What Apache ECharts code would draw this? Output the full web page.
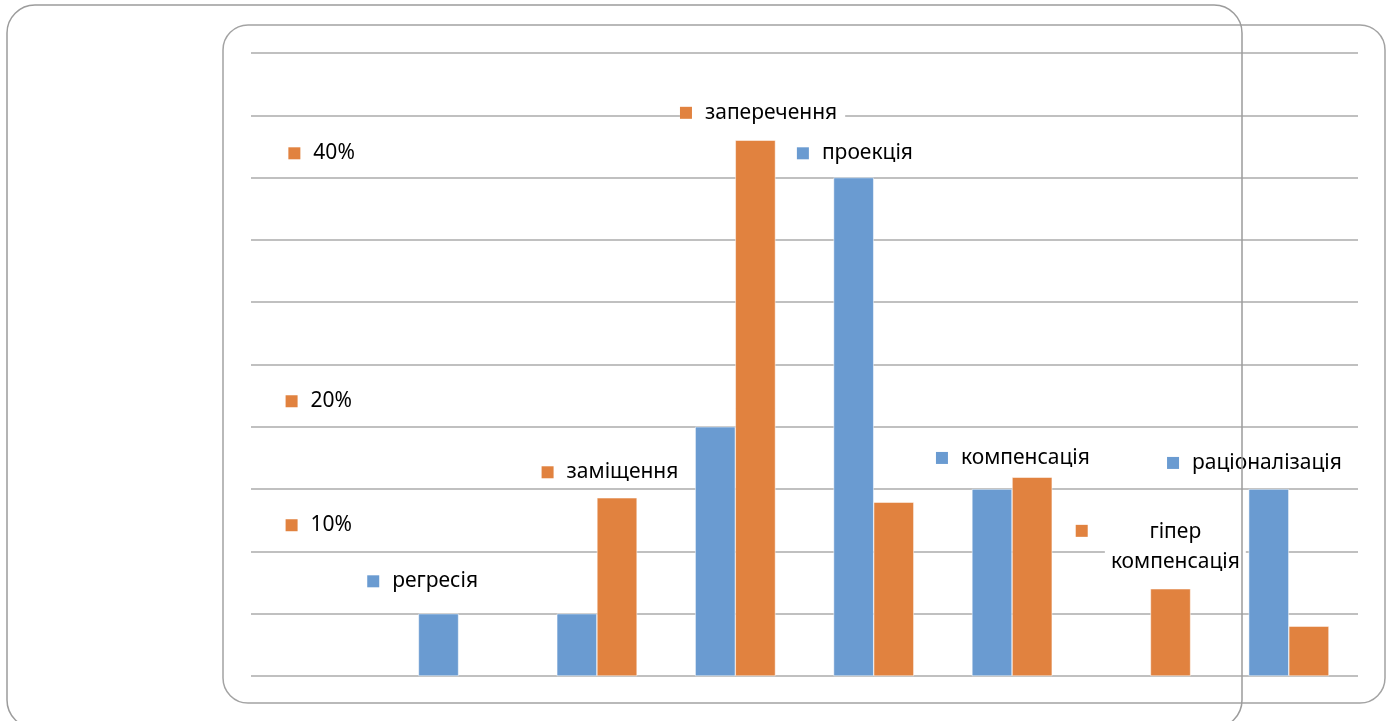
<!DOCTYPE html>
<html>
<head>
<meta charset="utf-8">
<script src="https://cdn.jsdelivr.net/npm/echarts@6/dist/echarts.min.js"></script>
<title>механізми захисту</title>
<style>
  html, body { margin: 0; padding: 0; background: #fff; }
  #main { width: 1389px; height: 721px; }
</style>
</head>
<body>
<div id="main"></div>
<script>
// categories (first one is empty, it only holds the percentage notes)
var categories = ['', 'регресія', 'заміщення', 'заперечення', 'проекція', 'компенсація', 'гіпер компенсація', 'раціоналізація'];
var blueValues = ['-', 1, 1, 4, 8, 3, '-', 3];
var orangeValues = ['-', '-', 2.86, 8.6, 2.79, 3.19, 1.4, 0.8];

// floating notes: text, series (0 blue, 1 orange), and where they sit in data units
var noteTexts = ['40%', '20%', '10%', 'регресія', 'заміщення', 'заперечення', 'проекція', 'компенсація', 'раціоналізація', ''];
var noteSeries = [1, 1, 1, 0, 1, 1, 0, 0, 0, 1];
var noteX = [0.27, 0.25, 0.25, 0.84, 2.1, 3.1, 3.945, 4.95, 6.62, 5.96];
var noteY = [8.39, 4.41, 2.42, 1.52, 3.27, 9.04, 8.39, 3.5, 3.42, 2.33];
// the two-line note is centred on its own
var splitNote = 'гіпер\nкомпенсація';
var splitNoteX = 6.68;
var splitNoteY = 2.07;

var colors = ['#6A9BD1', '#E1823F'];

var notes = [];
for (var i = 0; i < noteTexts.length; i++) {
	var s = noteSeries[i];
	var txt = noteTexts[i] ? '{sq' + s + '|}{t|' + noteTexts[i] + '}' : '{sq' + s + '|}';
	notes.push({ value: [noteX[i], noteY[i]], label: { formatter: txt } });
}

var myChart = echarts.init(document.getElementById('main'));
var option = {
	animation: false,
	grid: { left: 251, right: 31, top: 53, bottom: 45 },
	xAxis: [
		{
			type: 'category',
			data: categories,
			axisLine: { show: false },
			axisTick: { show: false },
			axisLabel: { show: false }
		},
		{
			type: 'value', min: 0, max: 8, show: false
		}
	],
	yAxis: {
		type: 'value',
		min: 0, max: 10, interval: 1,
		axisLine: { show: false },
		axisTick: { show: false },
		axisLabel: { show: false },
		splitLine: { lineStyle: { color: '#ababab', width: 1.5 } }
	},
	series: [
		{
			type: 'bar', data: blueValues, barGap: 0, barCategoryGap: '42%',
			itemStyle: { color: colors[0], borderColor: '#fff', borderWidth: 0.5 }
		},
		{
			type: 'bar', data: orangeValues, barGap: 0, barCategoryGap: '42%',
			itemStyle: { color: colors[1], borderColor: '#fff', borderWidth: 0.5 }
		},
		{
			type: 'scatter', xAxisIndex: 1, symbolSize: 0, z: 5,
			itemStyle: { opacity: 1 },
			data: notes,
			label: {
				show: true, position: 'right', distance: 0, opacity: 1,
				backgroundColor: '#fff', padding: [3, 8, 3, 0],
				rich: {
					sq0: { width: 12, height: 12, backgroundColor: colors[0] },
					sq1: { width: 12, height: 12, backgroundColor: colors[1] },
					t: { fontFamily: 'Noto Sans', fontSize: 21, color: '#000', padding: [0, 0, 0, 13] }
				}
			}
		},
		{
			type: 'scatter', xAxisIndex: 1, symbolSize: 0, z: 4,
			itemStyle: { opacity: 1 },
			data: [[splitNoteX, splitNoteY]],
			label: {
				show: true, position: 'inside', formatter: splitNote, opacity: 1,
				backgroundColor: '#fff', padding: [4, 6],
				fontFamily: 'Noto Sans', fontSize: 21, color: '#000', lineHeight: 30, align: 'center'
			}
		}
	],
	graphic: [
		{
			type: 'rect', z: 0, silent: true,
			shape: { x: 223, y: 25, width: 1162, height: 678, r: 25 },
			style: { fill: null, stroke: '#a3a3a3', lineWidth: 1.5 }
		},
		{
			type: 'rect', z: 100, silent: true,
			shape: { x: 7, y: 5, width: 1235, height: 723, r: 28 },
			style: { fill: null, stroke: '#9c9c9c', lineWidth: 1.5 }
		}
	]
};
myChart.setOption(option);
</script>
</body>
</html>
